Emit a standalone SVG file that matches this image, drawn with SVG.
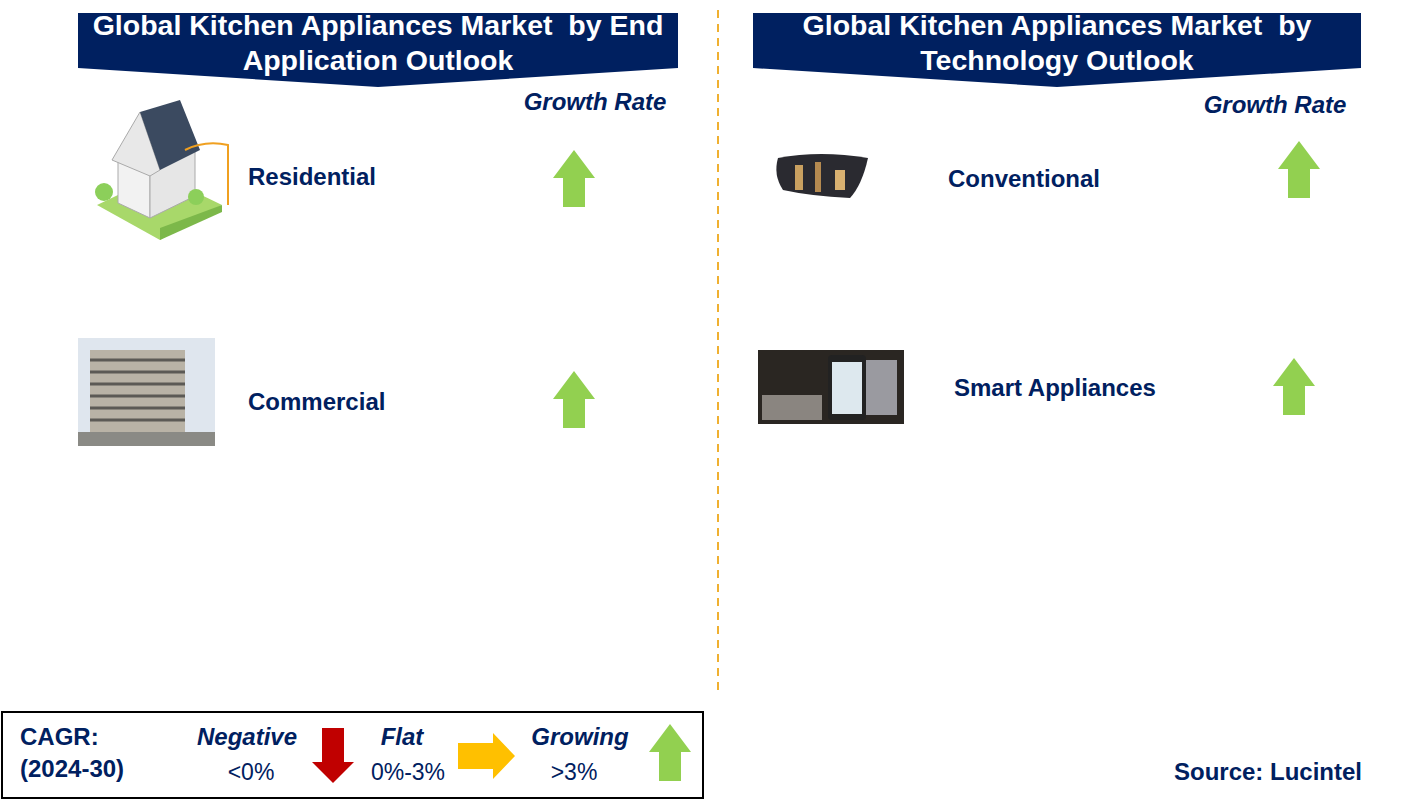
<svg xmlns="http://www.w3.org/2000/svg" width="1421" height="801" viewBox="0 0 1421 801">
<style>
.ban{fill:#002060}
.bt{font:bold 28.5px "Liberation Sans",Arial,sans-serif;fill:#fff;text-anchor:middle}
.lab{font:bold 24px "Liberation Sans",Arial,sans-serif;fill:#002060}
.gr{font:bold italic 24px "Liberation Sans",Arial,sans-serif;fill:#002060}
.lt{font:23px "Liberation Sans",Arial,sans-serif;fill:#002060}
.up{fill:#92d050}
</style>
<defs>
<path id="upA" d="M0,0 L21,-28 L42,0 L32,0 L32,29 L10,29 L10,0 Z" class="up"/>
</defs>
<rect width="1421" height="801" fill="#fff"/>
<line x1="718" y1="10" x2="718" y2="695" stroke="#f0b030" stroke-width="2" stroke-dasharray="8,6"/>
<g id="banner-left">
<path class="ban" d="M78,13 H678 V68 L378,87 L78,68 Z"/>
<text class="bt" x="378" y="35" xml:space="preserve">Global Kitchen Appliances Market  by End</text>
<text class="bt" x="378" y="70">Application Outlook</text>
</g>
<g id="banner-right">
<path class="ban" d="M753,13 H1361 V68 L1057,87 L753,68 Z"/>
<text class="bt" x="1057" y="35" xml:space="preserve">Global Kitchen Appliances Market  by</text>
<text class="bt" x="1057" y="70">Technology Outlook</text>
</g>
<text class="gr" x="595" y="110" text-anchor="middle">Growth Rate</text>
<text class="gr" x="1275" y="113" text-anchor="middle">Growth Rate</text>
<g id="residential">
<path d="M97,205 L160,175 L222,205 L160,240 Z" fill="#a8d86a"/>
<path d="M160,228 L222,205 V212 L160,240 Z" fill="#7cb84a"/>
<path d="M118,160 L150,172 V218 L118,203 Z" fill="#f2f2f2" stroke="#aaa"/>
<path d="M150,172 L195,150 V196 L150,218 Z" fill="#e6e6e6" stroke="#aaa"/>
<path d="M112,160 L140,112 L160,170 L150,176 Z" fill="#e8e8e8" stroke="#aaa"/>
<path d="M140,112 L180,100 L200,150 L160,170 Z" fill="#3b4a60"/>
<circle cx="104" cy="192" r="9" fill="#8ccf5a"/>
<circle cx="196" cy="197" r="8" fill="#8ccf5a"/>
<path d="M185,150 Q205,140 228,145 V205" fill="none" stroke="#f0a020" stroke-width="2"/>
<text class="lab" x="248" y="185">Residential</text>
<use href="#upA" transform="translate(553,178)"/>
</g>
<g id="commercial">
<rect x="78" y="338" width="137" height="108" fill="#dfe6ee"/>
<rect x="90" y="350" width="95" height="90" fill="#b9b3a6"/>
<g stroke="#5c5a55" stroke-width="3">
<line x1="90" y1="360" x2="185" y2="360"/><line x1="90" y1="372" x2="185" y2="372"/>
<line x1="90" y1="384" x2="185" y2="384"/><line x1="90" y1="396" x2="185" y2="396"/>
<line x1="90" y1="408" x2="185" y2="408"/><line x1="90" y1="420" x2="185" y2="420"/>
</g>
<rect x="78" y="432" width="137" height="14" fill="#8a8a85"/>
<text class="lab" x="248" y="410">Commercial</text>
<use href="#upA" transform="translate(553,399)"/>
</g>
<g id="conventional">
<path d="M778,158 Q820,150 868,158 Q862,185 850,198 Q810,196 783,190 Q773,175 778,158 Z" fill="#2a2a30"/>
<rect x="795" y="165" width="8" height="25" fill="#c9a060"/>
<rect x="815" y="162" width="6" height="30" fill="#b58a50"/>
<rect x="835" y="170" width="10" height="20" fill="#d8b070"/>
<text class="lab" x="948" y="187">Conventional</text>
<use href="#upA" transform="translate(1278,169)"/>
</g>
<g id="smart">
<rect x="758" y="350" width="146" height="74" fill="#2a2622"/>
<rect x="762" y="395" width="60" height="25" fill="#8a8580"/>
<rect x="862" y="360" width="35" height="55" fill="#9a9aa0"/>
<rect x="828" y="355" width="38" height="65" rx="4" fill="#222"/>
<rect x="832" y="362" width="30" height="52" fill="#dde8ee"/>
<text class="lab" x="954" y="396">Smart Appliances</text>
<use href="#upA" transform="translate(1273,386)"/>
</g>
<g id="legend">
<rect x="2" y="712" width="701" height="86" fill="#fff" stroke="#000" stroke-width="2"/>
<text class="lab" x="20" y="745">CAGR:</text>
<text class="lab" x="20" y="777">(2024-30)</text>
<text class="gr" x="247" y="745" text-anchor="middle">Negative</text>
<text class="lt" x="251" y="780" text-anchor="middle">&lt;0%</text>
<path d="M322,728 H344 V762 H354 L333,783 L312,762 H322 Z" fill="#c00000"/>
<text class="gr" x="402" y="745" text-anchor="middle">Flat</text>
<text class="lt" x="408" y="780" text-anchor="middle">0%-3%</text>
<path d="M458,743 H493 V733 L515,756 L493,779 V769 H458 Z" fill="#ffc000"/>
<text class="gr" x="580" y="745" text-anchor="middle">Growing</text>
<text class="lt" x="574" y="780" text-anchor="middle">&gt;3%</text>
<path d="M649,752 L670,724 L691,752 H681 V781 H659 V752 Z" class="up"/>
</g>
<text class="lab" x="1362" y="780" text-anchor="end">Source: Lucintel</text>
</svg>
